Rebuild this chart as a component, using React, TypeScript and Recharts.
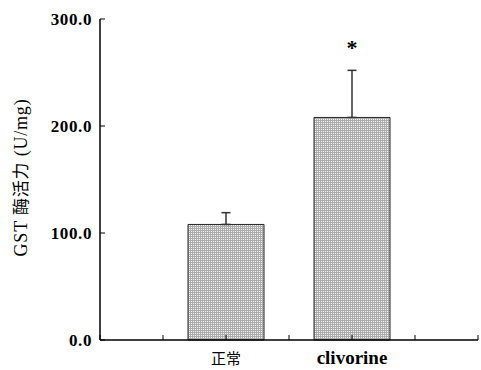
import { Bar, BarChart, ErrorBar, LabelList, XAxis, YAxis } from 'recharts'

const categories = ['正常', 'clivorine']
const gstActivity = [108, 208]
const gstSd = [11, 44]
const significance = ['', '*']
// slot of each bar on the 0–6 frame axis
const xSlots = [2, 4]
const xTicks = [0, 1, 2, 3, 4, 5, 6]
const yTicks = [0, 100, 200, 300]

const data = categories.map((name, i) => ({
  name,
  slot: xSlots[i],
  value: gstActivity[i],
  err: [0, gstSd[i]],
  sig: significance[i],
}))

const serif = '"Liberation Serif", "Times New Roman", serif'
const cjk = '"Noto Sans CJK SC", sans-serif'

const YTick = ({ x, y, payload }: any) => (
  <g>
    <line x1={x} y1={y} x2={x + 5} y2={y} stroke='#000' strokeWidth={1} />
    <text
      x={x - 8}
      y={y}
      dy={6}
      textAnchor='end'
      fontFamily={serif}
      fontWeight='bold'
      fontSize={17}
      letterSpacing={0.6}
      fill='#000'
    >
      {payload.value.toFixed(1)}
    </text>
  </g>
)

const XTick = ({ x, y, payload }: any) => {
  const idx = xSlots.indexOf(payload.value)
  const label = idx >= 0 ? categories[idx] : ''
  const isCjk = /[\u4e00-\u9fff]/.test(label)
  return (
    <g>
      <line x1={x} y1={y} x2={x} y2={y - 5} stroke='#000' strokeWidth={1} />
      {label && (
        <text
          x={x}
          y={y + 24}
          textAnchor='middle'
          fontFamily={isCjk ? cjk : serif}
          fontWeight={isCjk ? 'normal' : 'bold'}
          fontSize={isCjk ? 15 : 19}
          fill='#000'
        >
          {label}
        </text>
      )}
    </g>
  )
}

const YLabel = ({ viewBox }: any) => {
  const cx = 21
  const cy = viewBox.y + viewBox.height / 2 - 2
  return (
    <text
      x={cx}
      y={cy}
      dy={6}
      textAnchor='middle'
      transform={`rotate(-90, ${cx}, ${cy})`}
      fontFamily={serif}
      fontSize={18}
      letterSpacing={0.8}
      fill='#000'
    >
      GST <tspan fontFamily={cjk} fontSize={17}>酶活力</tspan> (U/mg)
    </text>
  )
}

export default function App() {
  return (
    <div style={{ position: 'absolute', left: 0, top: 0, background: '#fff' }}>
      <BarChart
        width={481}
        height={370}
        data={data}
        margin={{ top: 19, right: 3, bottom: 0, left: 0 }}
      >
        <defs>
          <pattern id='dots' width={2} height={2} patternUnits='userSpaceOnUse'>
            <rect width={2} height={2} fill='#ababab' />
            <rect x={1} y={1} width={1} height={1} fill='#f4f4f4' />
          </pattern>
        </defs>
        <XAxis
          dataKey='slot'
          type='number'
          domain={[0, 6]}
          ticks={xTicks}
          interval={0}
          height={30}
          tickSize={0}
          tickMargin={0}
          tick={<XTick />}
          axisLine={{ stroke: '#000', strokeWidth: 1.5 }}
        />
        <YAxis
          type='number'
          domain={[0, 300]}
          ticks={yTicks}
          interval={0}
          width={100}
          tickSize={0}
          tickMargin={0}
          tick={<YTick />}
          axisLine={{ stroke: '#000', strokeWidth: 1.5 }}
          label={<YLabel />}
        />
        <Bar
          dataKey='value'
          barSize={76}
          fill='url(#dots)'
          stroke='#222'
          strokeWidth={1}
          isAnimationActive={false}
        >
          <ErrorBar
            dataKey='err'
            direction='y'
            width={4.5}
            stroke='#333'
            strokeWidth={1.5}
            isAnimationActive={false}
          />
          <LabelList
            dataKey='sig'
            position='top'
            offset={62}
            fontFamily={serif}
            fontWeight='bold'
            fontSize={22}
            fill='#000'
          />
        </Bar>
      </BarChart>
    </div>
  )
}
